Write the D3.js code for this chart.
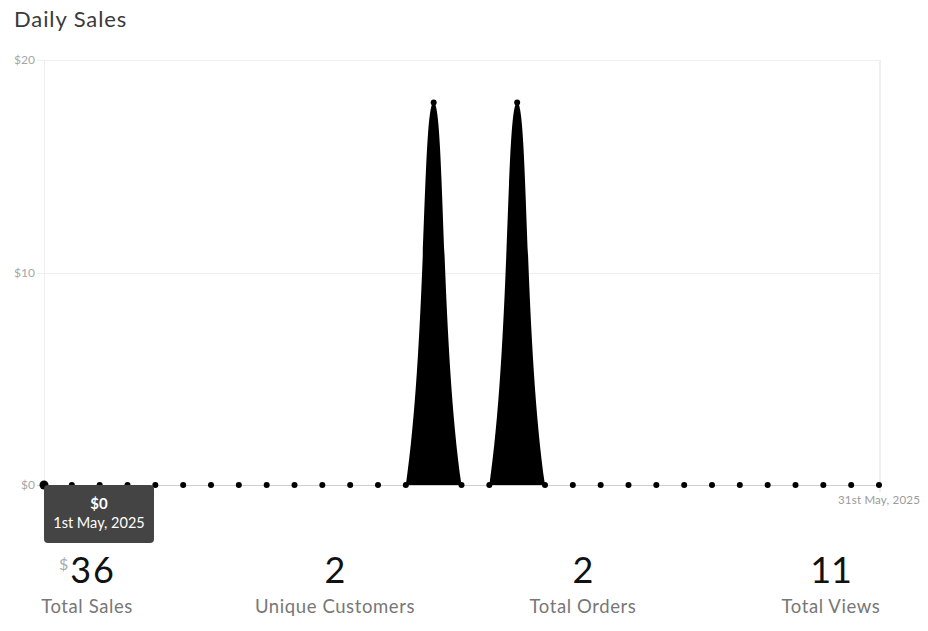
<!DOCTYPE html>
<html>
<head>
<meta charset="utf-8">
<script src="https://cdn.jsdelivr.net/npm/d3@7"></script>
<style>
  html, body { margin: 0; padding: 0; background: #fff; }
  svg { display: block; font-family: Lato, "Open Sans", sans-serif; }
</style>
</head>
<body>
<svg id="chart" width="928" height="631"></svg>
<script>
// ---- data ----
const dayLabels = ["1st May, 2025","2nd May, 2025","3rd May, 2025","4th May, 2025","5th May, 2025",
  "6th May, 2025","7th May, 2025","8th May, 2025","9th May, 2025","10th May, 2025",
  "11th May, 2025","12th May, 2025","13th May, 2025","14th May, 2025","15th May, 2025",
  "16th May, 2025","17th May, 2025","18th May, 2025","19th May, 2025","20th May, 2025",
  "21st May, 2025","22nd May, 2025","23rd May, 2025","24th May, 2025","25th May, 2025",
  "26th May, 2025","27th May, 2025","28th May, 2025","29th May, 2025","30th May, 2025",
  "31st May, 2025"];
const salesValues = [0,0,0,0,0,0,0,0,0,0,0,0,0,0,18,0,0,18,0,0,0,0,0,0,0,0,0,0,0,0,0];
const yTickValues = [0, 10, 20];
const xTickLabels = ["31st May, 2025"];
const statValues = ["36", "2", "2", "11"];
const statLabels = ["Total Sales", "Unique Customers", "Total Orders", "Total Views"];
const tooltipValue = "$0";
const tooltipLabel = "1st May, 2025";

// ---- layout ----
const svg = d3.select("#chart");
const plotL = 44, plotR = 879, plotT = 60, plotB = 485;

const x = d3.scalePoint().domain(dayLabels).range([plotL, plotR]);
const y = d3.scaleLinear().domain([0, 20]).range([plotB, plotT]);

// Chart.js-like spline (tension 0.4) with control points capped to chart area
function chartSpline(tension, x0, x1, y0, y1) {
  function Curve(context) { this._context = context; }
  Curve.prototype = {
    areaStart() { this._line = 0; },
    areaEnd() { this._line = NaN; },
    lineStart() { this._pts = []; },
    point(px, py) { this._pts.push({x: +px, y: +py}); },
    lineEnd() {
      const p = this._pts, n = p.length, c = this._context;
      const cx = v => Math.max(x0, Math.min(x1, v));
      const cy = v => Math.max(y0, Math.min(y1, v));
      if (n) {
        if (this._line) c.lineTo(p[0].x, p[0].y); else c.moveTo(p[0].x, p[0].y);
        const cps = p.map((cur, i) => {
          const prev = p[Math.max(0, i - 1)], next = p[Math.min(n - 1, i + 1)];
          const d01 = Math.hypot(cur.x - prev.x, cur.y - prev.y);
          const d12 = Math.hypot(next.x - cur.x, next.y - cur.y);
          let s01 = d01 / (d01 + d12), s12 = d12 / (d01 + d12);
          if (!isFinite(s01)) s01 = 0;
          if (!isFinite(s12)) s12 = 0;
          const fa = tension * s01, fb = tension * s12;
          return {
            px: cx(cur.x - fa * (next.x - prev.x)), py: cy(cur.y - fa * (next.y - prev.y)),
            nx: cx(cur.x + fb * (next.x - prev.x)), ny: cy(cur.y + fb * (next.y - prev.y))
          };
        });
        for (let i = 1; i < n; i++) {
          c.bezierCurveTo(cps[i-1].nx, cps[i-1].ny, cps[i].px, cps[i].py, p[i].x, p[i].y);
        }
      }
      if (this._line || (this._line !== 0 && n === 1)) c.closePath();
      this._line = 1 - this._line;
    }
  };
  return ctx => new Curve(ctx);
}

// title
svg.append("text").attr("x", 14).attr("y", 27)
  .attr("font-size", 22).attr("letter-spacing", 0.9).attr("fill", "#3a3a3a").text("Daily Sales");

// grid
const grid = svg.append("g").attr("shape-rendering", "crispEdges");
grid.selectAll("line.h").data(yTickValues).join("line")
  .attr("x1", plotL - 7).attr("x2", plotR)
  .attr("y1", d => Math.round(y(d)) + 0.5).attr("y2", d => Math.round(y(d)) + 0.5)
  .attr("stroke", d => d === 0 ? "#cfcfcf" : "#efefef").attr("stroke-width", 1);
grid.selectAll("line.v").data([plotL, plotR]).join("line")
  .attr("x1", d => d + 0.5).attr("x2", d => d + 0.5)
  .attr("y1", plotT).attr("y2", (d, i) => i === 0 ? plotB : plotB + 7)
  .attr("stroke", "#efefef").attr("stroke-width", (d, i) => i === 0 ? 1 : 2);

// y labels
svg.append("g").selectAll("text").data(yTickValues).join("text")
  .attr("x", 35).attr("y", d => y(d)).attr("dy", "0.35em")
  .attr("text-anchor", "end").attr("font-size", 12).attr("fill", "#a6a6a6")
  .text(d => "$" + d);

// x label
svg.append("g").selectAll("text").data(xTickLabels).join("text")
  .attr("x", d => x(d)).attr("y", 504).attr("text-anchor", "middle")
  .attr("font-size", 11.5).attr("letter-spacing", 0.2).attr("fill", "#9a9a9a").text(d => d);

// area
const area = d3.area()
  .x((d, i) => x(dayLabels[i]))
  .y0(y(0))
  .y1(d => y(d))
  .curve(chartSpline(0.4, plotL, plotR, plotT, plotB));
svg.append("path").datum(salesValues).attr("d", area).attr("fill", "#000");

// points
svg.append("g").selectAll("circle").data(salesValues).join("circle")
  .attr("cx", (d, i) => x(dayLabels[i])).attr("cy", d => y(d))
  .attr("r", (d, i) => i === 0 ? 4.5 : 3).attr("fill", "#000");

// tooltip
const tip = svg.append("g");
tip.append("rect").attr("x", x(dayLabels[0])).attr("y", 485).attr("width", 110).attr("height", 58)
  .attr("rx", 4).attr("fill", "#444");
tip.append("text").attr("x", x(dayLabels[0]) + 55).attr("y", 509).attr("text-anchor", "middle")
  .attr("font-size", 15).attr("font-weight", "bold").attr("fill", "#fff").text(tooltipValue);
tip.append("text").attr("x", x(dayLabels[0]) + 55).attr("y", 528).attr("text-anchor", "middle")
  .attr("font-size", 14.5).attr("fill", "#fff").text(tooltipLabel);

// stats
const statCenters = [87, 335, 583, 831];
const stats = svg.append("g").selectAll("g").data(statValues).join("g")
  .attr("transform", (d, i) => `translate(${statCenters[i]},0)`);
stats.append("text").attr("x", (d, i) => i === 0 ? 6 : 0).attr("y", 583).attr("text-anchor", "middle")
  .attr("font-size", 36).attr("letter-spacing", (d, i) => i === 0 ? 2 : 0).attr("fill", "#111").text(d => d);
stats.append("text").attr("y", 613).attr("text-anchor", "middle")
  .attr("font-size", 18.5).attr("letter-spacing", 0.6).attr("fill", "#777").text((d, i) => statLabels[i]);
svg.append("text").attr("x", 59).attr("y", 570).attr("font-size", 16)
  .attr("fill", "#aaa").text("$");
</script>
</body>
</html>
